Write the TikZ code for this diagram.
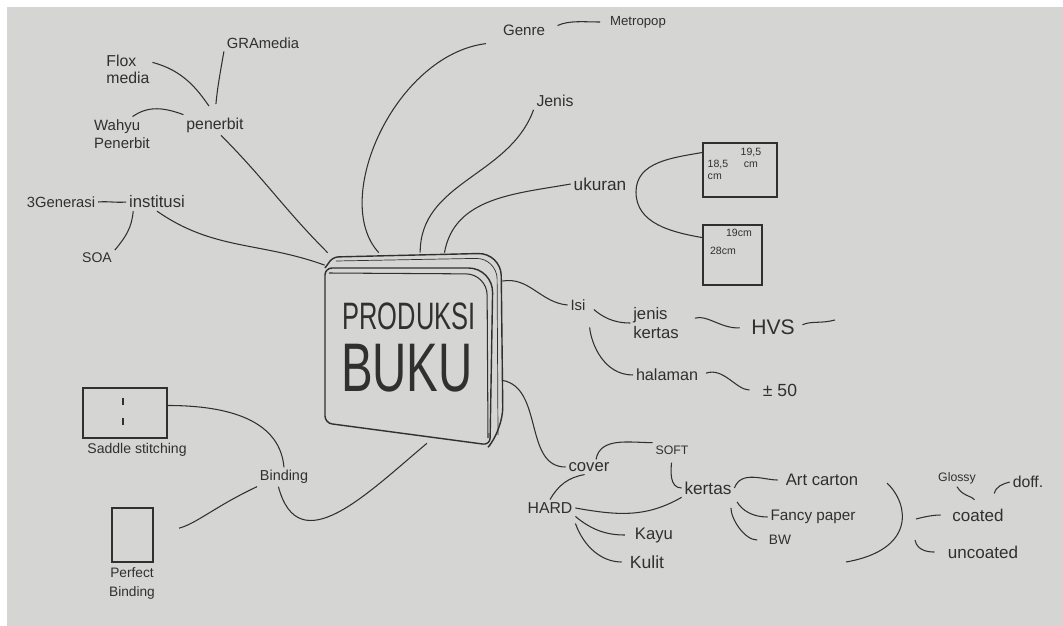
\documentclass[tikz,border=0pt]{standalone}
\usepackage{fontspec}
\setmainfont{Liberation Sans}
\usepackage{graphicx}
\usepackage{tikz}
\usetikzlibrary{calc}

\definecolor{paper}{RGB}{213,213,211}
\definecolor{ink}{RGB}{48,48,48}
\newcommand{\lblsize}[1]{\fontsize{#1}{#1}\selectfont}

\begin{document}
\begin{tikzpicture}[
    x=0.02cm, y=0.02cm,
    lbl/.style={inner sep=1.5pt, text=ink, font=\lblsize{9}},
    link/.style={draw=ink, line width=0.6pt},
    frame/.style={draw=ink, line width=0.7pt, inner sep=0pt}
  ]
    \fill[white] (0,0) rectangle (1063,-626);
    \fill[paper] (7,-7) rectangle (1063,-626);

    % buku di tengah
    \node[minimum width=3.54cm, minimum height=3.8cm, inner sep=0pt] (buku) at (413.5,-348) {};
    \draw[ink, line width=0.8pt, rounded corners=4pt] (325,-268) -- (325,-423) -- (490,-445)
      [rounded corners=14pt] -- (493,-268) [rounded corners=4pt] -- cycle;
    \draw[ink, line width=0.6pt, rounded corners=12pt] (329,-273) -- (487,-274) -- (488,-438);
    \draw[ink, line width=0.8pt, rounded corners=3pt] (325,-268) -- (333,-257)
      [rounded corners=13pt] -- (501,-253) -- (503,-430) [sharp corners] -- (490,-445);
    \draw[ink, line width=0.4pt, rounded corners=12pt] (336,-261) -- (497,-258) -- (498,-435);
    \node[text=ink, font=\lblsize{14.5}] (produksi) at (409,-316) {\scalebox{1}[1.5]{PRODUKSI}};
    \node[text=ink, font=\lblsize{27}] (bukutxt) at (407,-368) {\scalebox{1}[1.45]{BUKU}};

    % kiri atas
    \node[lbl, font=\lblsize{8.4}] (gramedia) at (263,-43) {GRAmedia};
    \node[lbl, align=left, font=\fontsize{9}{9.5}\selectfont] (flox) at (128,-69) {Flox\\media};
    \node[lbl] (penerbit) at (215,-125) {penerbit};
    \node[lbl, align=left, font=\fontsize{8.5}{10.2}\selectfont] (wahyu) at (122,-134) {Wahyu\\Penerbit};
    \node[lbl, font=\lblsize{8.4}] (gen3) at (61,-202) {3Generasi};
    \node[lbl, font=\lblsize{9.5}] (institusi) at (157,-202) {institusi};
    \node[lbl, font=\lblsize{8}] (soa) at (97,-258) {SOA};

    \draw[link, shorten >=6pt] (gramedia.south west) to[out=-100,in=85] (penerbit.north);
    \draw[link, shorten >=6pt] ([yshift=-6pt]flox.north east) to[out=-15,in=125] (penerbit.north);
    \draw[link] ([xshift=6pt]wahyu.north) to[out=35,in=160] (penerbit.north west);
    \draw[link] (gen3.east) to[out=5,in=185] (institusi.west);
    \draw[link] ([xshift=4pt]institusi.south west) to[out=-95,in=50] (soa.north east);
    \draw[link] (penerbit.-60) to[out=-45,in=135] (buku.132);
    \draw[link] (institusi.south) to[out=-35,in=160] (buku.137);

    % atas
    \node[lbl, font=\lblsize{8.6}] (genre) at (524,-30) {Genre};
    \node[lbl, font=\lblsize{7.5}] (metropop) at (638,-22) {Metropop};
    \node[lbl] (jenis) at (555,-101) {Jenis};
    \node[lbl, font=\lblsize{9.8}] (ukuran) at (600,-184) {ukuran};
    \node[frame, minimum width=1.48cm, minimum height=1.08cm] (box1) at (740,-170) {};
    \node[frame, minimum width=1.18cm, minimum height=1.2cm] (box2) at (732.5,-255) {};
    \node[lbl, align=center, font=\fontsize{6}{6.5}\selectfont] (b1w) at (751,-158) {19,5\\cm};
    \node[lbl, align=left, font=\fontsize{6}{6.5}\selectfont] (b1h) at (718,-170) {18,5\\cm};
    \node[lbl, font=\lblsize{6}] (b2w) at (739,-233) {19cm};
    \node[lbl, font=\lblsize{6}] (b2h) at (723,-251) {28cm};
    \coordinate (ukbr) at (636,-192);

    \draw[link] ([xshift=-8pt,yshift=-3pt]genre.south west) .. controls (395,-55) and (330,-200) .. (buku.110);
    \draw[link, shorten <=6pt, shorten >=4pt] (genre.east) to[out=25,in=180] (metropop.west);
    \draw[link] (jenis.south west) to[out=-110,in=90] (buku.86);
    \draw[link] (ukuran.west) to[out=190,in=80] (buku.72);
    \draw[link] (box1.155) to[out=190,in=90] (ukbr) to[out=-90,in=170] (box2.150);

    % kanan tengah
    \node[lbl, font=\lblsize{8.5}] (isi) at (578,-305) {Isi};
    \node[lbl, align=left, font=\fontsize{9.5}{11.3}\selectfont] (jk) at (656,-323) {jenis\\kertas};
    \node[lbl, font=\lblsize{12}] (hvs) at (773,-327) {HVS};
    \node[lbl, font=\lblsize{9.2}] (halaman) at (667,-375) {halaman};
    \node[lbl, font=\lblsize{10}] (pm50) at (780,-390) {± 50};
    \coordinate (hvsend) at (835,-320);

    \draw[link] (buku.37) to[out=10,in=175] (isi.west);
    \draw[link, shorten <=4pt] (isi.east) to[out=-40,in=180] (jk.west);
    \draw[link, shorten <=8pt] (isi.south east) to[out=-85,in=180] (halaman.west);
    \draw[link, shorten <=8pt, shorten >=5pt] (jk.east) to[out=20,in=185] (hvs.west);
    \draw[link, shorten <=3pt] (hvs.east) to[out=25,in=195] (hvsend);
    \draw[link, shorten <=3pt, shorten >=6pt] (halaman.east) to[out=20,in=180] (pm50.west);

    % kanan bawah
    \node[lbl, font=\lblsize{9.5}] (cover) at (589,-467) {cover};
    \node[lbl, font=\lblsize{7}] (soft) at (672,-450) {SOFT};
    \node[lbl, font=\lblsize{9.8}] (kertas) at (708,-488) {kertas};
    \node[lbl] (hard) at (550,-508) {HARD};
    \node[lbl, font=\lblsize{9.5}] (kayu) at (654,-535) {Kayu};
    \node[lbl, font=\lblsize{10}] (kulit) at (647,-562) {Kulit};
    \node[lbl, font=\lblsize{9.5}] (art) at (822,-480) {Art carton};
    \node[lbl, font=\lblsize{8.7}] (fancy) at (813,-517) {Fancy paper};
    \node[lbl, font=\lblsize{7.8}] (bw) at (780,-540) {BW};
    \node[lbl, font=\lblsize{7}] (glossy) at (957,-478) {Glossy};
    \node[lbl] (doff) at (1028,-482) {doff.};
    \node[lbl, font=\lblsize{9.7}] (coated) at (978,-515) {coated};
    \node[lbl, font=\lblsize{9.7}] (uncoated) at (983,-552) {uncoated};
    \coordinate (brtop) at (887,-483);
    \coordinate (brbot) at (846,-562);
    \coordinate (brmid) at (916,-519);
    \coordinate (brlow) at (915,-540);

    \draw[link] (buku.-20) to[out=-10,in=180] (cover.west);
    \draw[link] ([xshift=4pt]cover.north) to[out=80,in=180] (soft.north west);
    \draw[link, shorten <=3pt] (soft.south) to[out=-95,in=180] (kertas.west);
    \draw[link] (cover.-120) to[out=190,in=60] (hard.north);
    \draw[link] (hard.east) to[out=-10,in=210] (kertas.south west);
    \draw[link, shorten >=4pt] (hard.south east) to[out=-40,in=180] (kayu.west);
    \draw[link, shorten >=3pt] ([yshift=-4pt]hard.south east) to[out=-70,in=180] (kulit.west);
    \draw[link, shorten >=3pt] (kertas.east) to[out=70,in=180] (art.west);
    \draw[link, shorten <=3pt] (kertas.south east) to[out=-60,in=180] (fancy.west);
    \draw[link, shorten <=6pt, shorten >=5pt] ([xshift=-2pt]kertas.south east) to[out=-90,in=180] (bw.west);
    \draw[link] (brtop) .. controls (910,-505) and (915,-550) .. (brbot);
    \draw[link, shorten >=5pt] (brmid) to[out=15,in=180] (coated.west);
    \draw[link, shorten >=6pt] (brlow) to[out=-80,in=180] (uncoated.west);
    \draw[link, shorten >=4pt] (glossy.south) to[out=-60,in=120] (coated.north);
    \draw[link] (doff.west) to[out=195,in=75] ([xshift=-7pt,yshift=7pt]coated.north east);

    % kiri bawah
    \node[frame, minimum width=1.68cm, minimum height=1cm] (saddle) at (125,-413) {};
    \foreach \y in {398,418}
      \draw[link] (123,-\y) -- (123,-\y-7);
    \node[lbl, font=\lblsize{8}] (saddlelbl) at (137,-450) {Saddle stitching};
    \node[frame, minimum width=0.82cm, minimum height=1.08cm] (perfect) at (132.5,-535) {};
    \node[lbl, align=center, font=\fontsize{7.8}{10.8}\selectfont] (perfectlbl) at (132,-583) {Perfect\\Binding};
    \node[lbl, font=\lblsize{8.2}] (binding) at (284,-477) {Binding};

    \draw[link] (saddle.10) to[out=0,in=95] (binding.north);
    \draw[link, shorten <=15pt] (perfect.east) to[out=15,in=205] (binding.south west);
    \draw[link] (binding.-120) to[out=-75,in=-140,looseness=1.3] (buku.-82);
\end{tikzpicture}
\end{document}
